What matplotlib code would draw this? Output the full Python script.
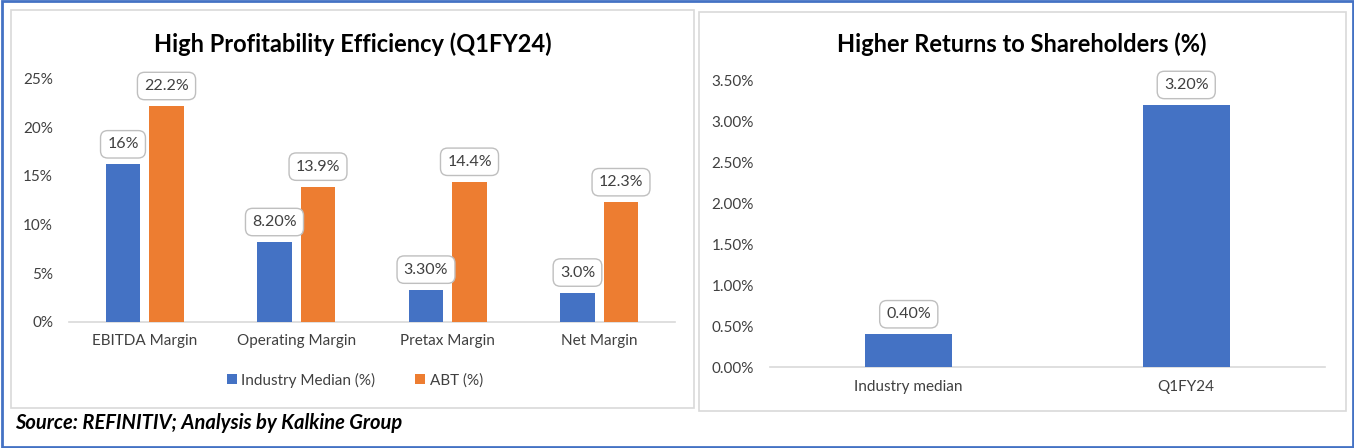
import matplotlib
matplotlib.use("Agg")
import matplotlib.pyplot as plt
from matplotlib.patches import Rectangle
from matplotlib.ticker import FuncFormatter
import numpy as np

# ---- data ----
categories = ["EBITDA Margin", "Operating Margin", "Pretax Margin", "Net Margin"]
industry_median = [16.2, 8.2, 3.3, 3.0]
abt = [22.2, 13.9, 14.4, 12.3]
industry_labels = ["16%", "8.20%", "3.30%", "3.0%"]
abt_labels = ["22.2%", "13.9%", "14.4%", "12.3%"]
left_yticks = [0, 5, 10, 15, 20, 25]

ret_categories = ["Industry median", "Q1FY24"]
ret_values = [0.40, 3.20]
ret_labels = ["0.40%", "3.20%"]
right_yticks = [0.0, 0.5, 1.0, 1.5, 2.0, 2.5, 3.0, 3.5]

title_left = "High Profitability Efficiency (Q1FY24)"
title_right = "Higher Returns to Shareholders (%)"
source_text = "Source: REFINITIV; Analysis by Kalkine Group"

BLUE = "#4472C4"
ORANGE = "#ED7D31"
TXT = "#404040"
FONT = "Lato"

W, H = 1354, 448
fig = plt.figure(figsize=(W / 100, H / 100), dpi=100)
plt.rcParams["font.family"] = [FONT, "DejaVu Sans"]


def px_rect(x0, y0, x1, y1):
    """convert pixel box (top-left origin) to figure fraction"""
    return [x0 / W, 1 - y1 / H, (x1 - x0) / W, (y1 - y0) / H]


# outer blue frame
fig.patches.append(Rectangle((1.5 / W, 1.5 / H), (W - 3) / W, (H - 3) / H,
                             transform=fig.transFigure, fill=False,
                             edgecolor=BLUE, linewidth=2.0, zorder=0))
# panel frames
for (x0, y0, x1, y1) in [(11, 10, 694, 408), (699, 12, 1346, 411)]:
    r = px_rect(x0, y0, x1, y1)
    fig.patches.append(Rectangle((r[0], r[1]), r[2], r[3],
                                 transform=fig.transFigure, fill=False,
                                 edgecolor="#D9D9D9", linewidth=1.2, zorder=0))


def label_box(ax, x, y, text):
    ax.annotate(text, (x, y), xytext=(0, 14.4), textcoords="offset points",
                ha="center", va="center", fontsize=11.5, color=TXT,
                bbox=dict(boxstyle="round,pad=0.42,rounding_size=0.45",
                          fc="white", ec="#BFBFBF", lw=1.0),
                zorder=5)


def style_axes(ax):
    for s in ["top", "right", "left"]:
        ax.spines[s].set_visible(False)
    ax.spines["bottom"].set_color("#D9D9D9")
    ax.spines["bottom"].set_linewidth(1.2)
    ax.tick_params(axis="both", length=0, labelsize=11, labelcolor=TXT)
    ax.tick_params(axis="y", pad=11.5)
    ax.tick_params(axis="x", pad=9)
    ax.set_facecolor("none")


# ---- left chart ----
axL = fig.add_axes(px_rect(69, 78.8, 675, 321.7))
x = np.arange(len(categories))
bw = 0.228
off = 0.1436
axL.bar(x - off, industry_median, bw, color=BLUE, label="Industry Median (%)", zorder=3)
axL.bar(x + off, abt, bw, color=ORANGE, label="ABT (%)", zorder=3)
axL.set_xlim(-0.5, len(categories) - 0.5)
axL.set_ylim(0, 25)
axL.set_yticks(left_yticks)
axL.yaxis.set_major_formatter(FuncFormatter(lambda v, p: f"{v:.0f}%"))
axL.set_xticks(x)
axL.set_xticklabels(categories)
style_axes(axL)
for i in range(len(categories)):
    label_box(axL, x[i] - off, industry_median[i], industry_labels[i])
    label_box(axL, x[i] + off, abt[i], abt_labels[i])

leg = axL.legend(loc="center", bbox_to_anchor=((355 - 69) / 606, -(380 - 321.7) / 242.9),
                 ncol=2, frameon=False, fontsize=11, handlelength=0.65,
                 handleheight=0.65, handletextpad=0.3, columnspacing=2.6)
for t in leg.get_texts():
    t.set_color(TXT)

fig.text(353 / W, 1 - 44 / H, title_left, ha="center", va="center",
         fontsize=17, fontweight="bold", color="black")

# ---- right chart ----
axR = fig.add_axes(px_rect(770, 80.4, 1325, 367))
xr = np.arange(len(ret_categories))
axR.bar(xr, ret_values, 0.313, color=BLUE, zorder=3)
axR.set_xlim(-0.5, len(ret_categories) - 0.5)
axR.set_ylim(0, 3.5)
axR.set_yticks(right_yticks)
axR.yaxis.set_major_formatter(FuncFormatter(lambda v, p: f"{v:.2f}%"))
axR.set_xticks(xr)
axR.set_xticklabels(ret_categories)
style_axes(axR)
for i in range(len(ret_categories)):
    label_box(axR, xr[i], ret_values[i], ret_labels[i])

fig.text(1022 / W, 1 - 44 / H, title_right, ha="center", va="center",
         fontsize=17, fontweight="bold", color="black")

# ---- source ----
fig.text(15 / W, 1 - 423 / H, source_text, ha="left", va="center",
         fontsize=14.5, fontweight="bold", fontstyle="italic", color="black")

fig.savefig("out.png", dpi=100)
